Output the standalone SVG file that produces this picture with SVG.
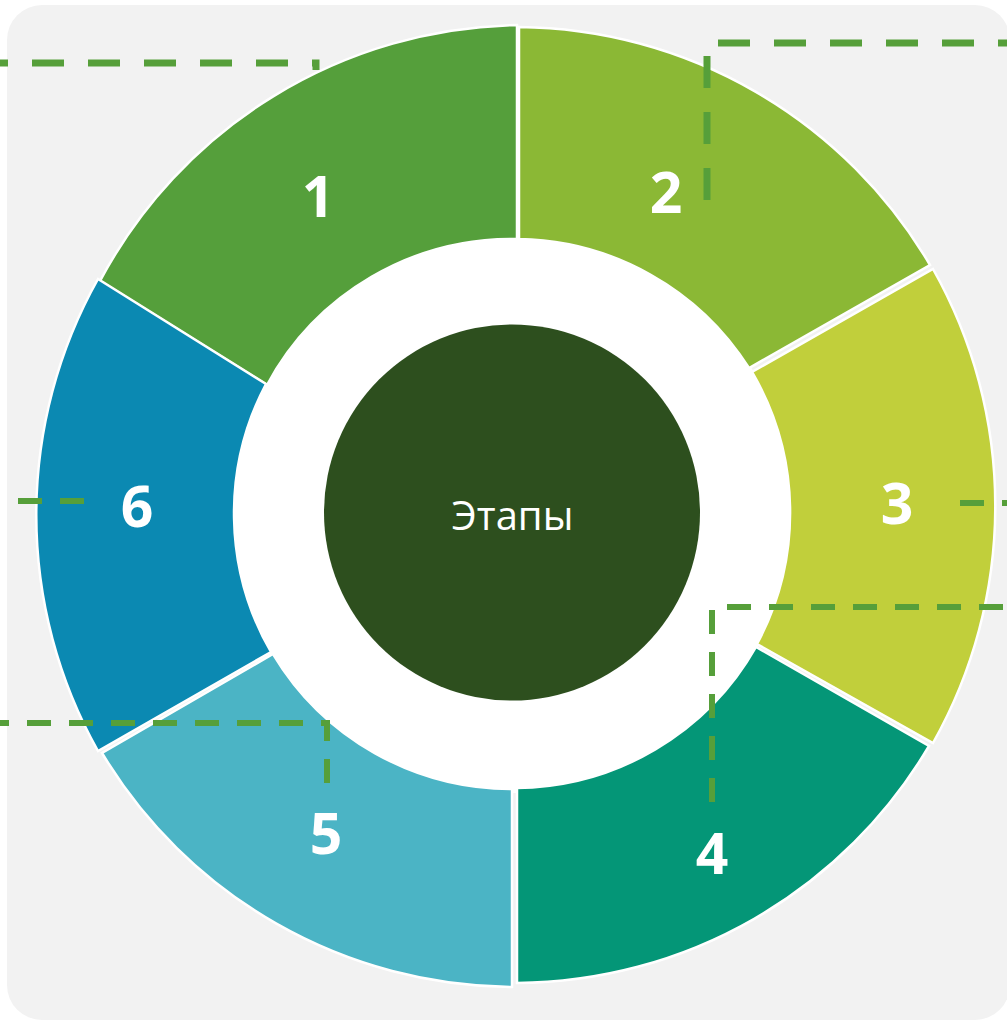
<svg xmlns="http://www.w3.org/2000/svg" width="1007" height="1022" viewBox="0 0 1007 1022">
  <style>
    .seg { stroke: #ffffff; stroke-width: 2.5; stroke-linejoin: miter; }
    .num { font-family: "Open Sans", "Liberation Sans", sans-serif; font-weight: 700; font-size: 57px; fill: #ffffff; text-anchor: middle; }
    .title { font-family: "Open Sans", "Noto Sans", sans-serif; font-weight: 400; font-size: 40px; fill: #ffffff; text-anchor: middle; }
    .dash-l { fill: none; stroke: #569f3a; stroke-width: 7; stroke-dasharray: 32 24; stroke-linejoin: miter; }
    .dash-s { fill: none; stroke: #569f3a; stroke-width: 6; stroke-dasharray: 24 18; stroke-linejoin: miter; }
  </style>
  <rect x="7" y="5" width="1003" height="1015" rx="35" ry="35" fill="#f2f2f2"/>
  <circle cx="512" cy="513" r="280" fill="#ffffff"/>
  <g id="stage-1">
    <path class="seg" fill="#559f3b" d="M517,25 A482,482 0 0 0 100,281 L267,385 A278,278 0 0 1 517,239 Z"/>
    <text class="num" x="318" y="217">1</text>
  </g>
  <g id="stage-2">
    <path class="seg" fill="#8bb835" d="M519,27 A482,482 0 0 1 930,265 L749,368 A278,278 0 0 0 519,239 Z"/>
    <text class="num" x="666" y="213">2</text>
  </g>
  <g id="stage-3">
    <path class="seg" fill="#c1cf3b" d="M933,269 A482,482 0 0 1 933,743 L757,644 A278,278 0 0 0 752,372 Z"/>
    <text class="num" x="897" y="524">3</text>
  </g>
  <g id="stage-4">
    <path class="seg" fill="#049677" d="M929,746 A482,482 0 0 1 517,983 L517,788 A278,278 0 0 0 756,647 Z"/>
    <text class="num" x="712" y="874">4</text>
  </g>
  <g id="stage-5">
    <path class="seg" fill="#4bb4c5" d="M512,987 A482,482 0 0 1 102,753 L273,654 A278,278 0 0 0 512,789 Z"/>
    <text class="num" x="326" y="854">5</text>
  </g>
  <g id="stage-6">
    <path class="seg" fill="#0b89b2" d="M98,751 A482,482 0 0 1 98,279 L266,384 A278,278 0 0 0 271,652 Z"/>
    <text class="num" x="137" y="527">6</text>
  </g>
  <g id="center">
    <circle cx="512" cy="512.5" r="188" fill="#2d4f1e"/>
    <text class="title" x="512.5" y="530">Этапы</text>
  </g>
  <g id="connectors">
    <path class="dash-l" d="M316,70 V63 H-40" stroke-dashoffset="21"/>
    <path class="dash-l" d="M707,200 V43 H1040"/>
    <path class="dash-s" d="M960,503 H1040"/>
    <path class="dash-s" d="M84,501 H-40"/>
    <path class="dash-s" d="M327,783 V723 H-40"/>
    <path class="dash-s" d="M712,802 V607 H1040"/>
  </g>
</svg>
